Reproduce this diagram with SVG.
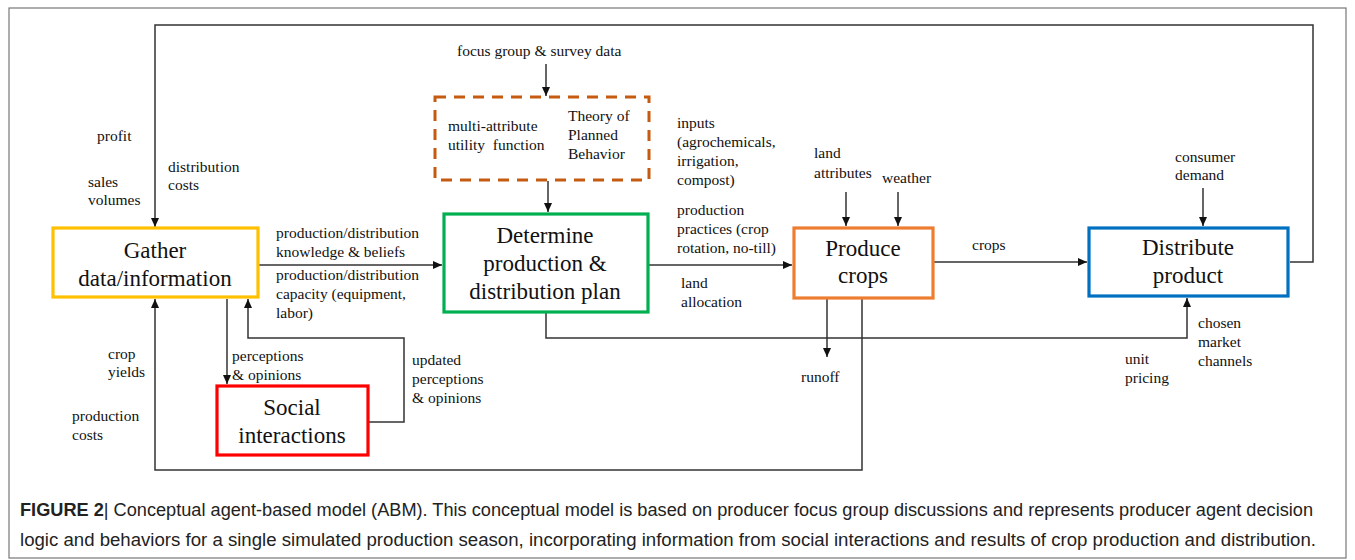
<svg xmlns="http://www.w3.org/2000/svg" width="1355" height="560" viewBox="0 0 1355 560">
<defs>
<marker id="ah" markerUnits="userSpaceOnUse" markerWidth="9" markerHeight="8" refX="9" refY="4" orient="auto"><path d="M0,0 L9,4 L0,8 z" fill="#111"/></marker>
<style>
.box{fill:#fff;stroke-width:3.2}
.bt{font-family:"Liberation Serif","Times New Roman",serif;font-size:23px;fill:#111;text-anchor:middle}
.lb{font-family:"Liberation Serif","Times New Roman",serif;font-size:15.5px;fill:#111}
.cn{fill:none;stroke:#333;stroke-width:1.5}
.cap{font-family:"Liberation Sans Narrow","Liberation Sans",Arial,sans-serif;font-size:17.5px;fill:#222}
</style>
</defs>
<rect x="0" y="0" width="1355" height="560" fill="#fff"/>
<rect x="9" y="8" width="1337" height="550" fill="none" stroke="#777" stroke-width="1.2"/>

<g id="connectors">
<path class="cn" d="M1290,262 H1313 V25 H155 V227" marker-end="url(#ah)"/>
<path class="cn" d="M258,265 H442" marker-end="url(#ah)"/>
<path class="cn" d="M648,265 H792" marker-end="url(#ah)"/>
<path class="cn" d="M933,262 H1087" marker-end="url(#ah)"/>
<path class="cn" d="M546,64 V96" marker-end="url(#ah)"/>
<path class="cn" d="M548,181 V212" marker-end="url(#ah)"/>
<path class="cn" d="M846,192 V226" marker-end="url(#ah)"/>
<path class="cn" d="M898,192 V226" marker-end="url(#ah)"/>
<path class="cn" d="M1203,188 V226" marker-end="url(#ah)"/>
<path class="cn" d="M546,312 V338 H1187 V298" marker-end="url(#ah)"/>
<path class="cn" d="M827,299 V357" marker-end="url(#ah)"/>
<path class="cn" d="M862,299 V470 H155 V299" marker-end="url(#ah)"/>
<path class="cn" d="M227,299 V384" marker-end="url(#ah)"/>
<path class="cn" d="M368,422 H404 V338 H248 V299" marker-end="url(#ah)"/>
</g>

<g id="gather">
<rect class="box" x="53" y="228" width="205" height="69" stroke="#FFC000"/>
<text class="bt" x="155" y="258">Gather</text>
<text class="bt" x="155" y="286">data/information</text>
</g>

<g id="tpb">
<rect x="435" y="97" width="214" height="83" fill="#fff" stroke="#C55A11" stroke-width="3" stroke-dasharray="11,8"/>
<text class="lb" x="448" y="131">multi-attribute</text>
<text class="lb" x="448" y="150" xml:space="preserve">utility  function</text>
<text class="lb" x="568" y="121">Theory of</text>
<text class="lb" x="568" y="140">Planned</text>
<text class="lb" x="568" y="159">Behavior</text>
</g>

<g id="determine">
<rect class="box" x="444" y="214" width="204" height="98" stroke="#00B050"/>
<text class="bt" x="545" y="243">Determine</text>
<text class="bt" x="545" y="271">production &amp;</text>
<text class="bt" x="545" y="299">distribution plan</text>
</g>

<g id="produce">
<rect class="box" x="794" y="228" width="139" height="70" stroke="#ED7D31"/>
<text class="bt" x="863" y="256">Produce</text>
<text class="bt" x="863" y="283">crops</text>
</g>

<g id="distribute">
<rect class="box" x="1089" y="228" width="199" height="68" stroke="#0070C0"/>
<text class="bt" x="1188" y="255">Distribute</text>
<text class="bt" x="1188" y="283">product</text>
</g>

<g id="social">
<rect class="box" x="217" y="386" width="151" height="69" stroke="#FF0000"/>
<text class="bt" x="292" y="415">Social</text>
<text class="bt" x="292" y="443">interactions</text>
</g>

<g id="labels">
<text class="lb" x="97" y="141">profit</text>
<text class="lb" x="88" y="187">sales</text>
<text class="lb" x="88" y="205">volumes</text>
<text class="lb" x="168" y="172">distribution</text>
<text class="lb" x="168" y="190">costs</text>
<text class="lb" x="276" y="238">production/distribution</text>
<text class="lb" x="276" y="257">knowledge &amp; beliefs</text>
<text class="lb" x="276" y="280">production/distribution</text>
<text class="lb" x="276" y="299">capacity (equipment,</text>
<text class="lb" x="276" y="318">labor)</text>
<text class="lb" x="108" y="359">crop</text>
<text class="lb" x="108" y="377">yields</text>
<text class="lb" x="72" y="421">production</text>
<text class="lb" x="72" y="440">costs</text>
<text class="lb" x="232" y="361">perceptions</text>
<text class="lb" x="232" y="380">&amp; opinions</text>
<text class="lb" x="412" y="365">updated</text>
<text class="lb" x="412" y="384">perceptions</text>
<text class="lb" x="412" y="403">&amp; opinions</text>
<text class="lb" x="457" y="56">focus group &amp; survey data</text>
<text class="lb" x="677" y="128">inputs</text>
<text class="lb" x="677" y="147">(agrochemicals,</text>
<text class="lb" x="677" y="166">irrigation,</text>
<text class="lb" x="677" y="185">compost)</text>
<text class="lb" x="677" y="215">production</text>
<text class="lb" x="677" y="234">practices (crop</text>
<text class="lb" x="677" y="253">rotation, no-till)</text>
<text class="lb" x="681" y="288">land</text>
<text class="lb" x="681" y="307">allocation</text>
<text class="lb" x="814" y="158">land</text>
<text class="lb" x="814" y="178">attributes</text>
<text class="lb" x="882" y="183">weather</text>
<text class="lb" x="1175" y="162">consumer</text>
<text class="lb" x="1175" y="180">demand</text>
<text class="lb" x="972" y="250">crops</text>
<text class="lb" x="801" y="382">runoff</text>
<text class="lb" x="1125" y="364">unit</text>
<text class="lb" x="1125" y="383">pricing</text>
<text class="lb" x="1198" y="328">chosen</text>
<text class="lb" x="1198" y="347">market</text>
<text class="lb" x="1198" y="366">channels</text>
</g>

<g id="caption">
<text class="cap" x="20" y="516" textLength="1293" lengthAdjust="spacingAndGlyphs"><tspan font-weight="bold">FIGURE 2</tspan>| Conceptual agent-based model (ABM). This conceptual model is based on producer focus group discussions and represents producer agent decision</text>
<text class="cap" x="20" y="546" textLength="1296" lengthAdjust="spacingAndGlyphs">logic and behaviors for a single simulated production season, incorporating information from social interactions and results of crop production and distribution.</text>
</g>
</svg>
